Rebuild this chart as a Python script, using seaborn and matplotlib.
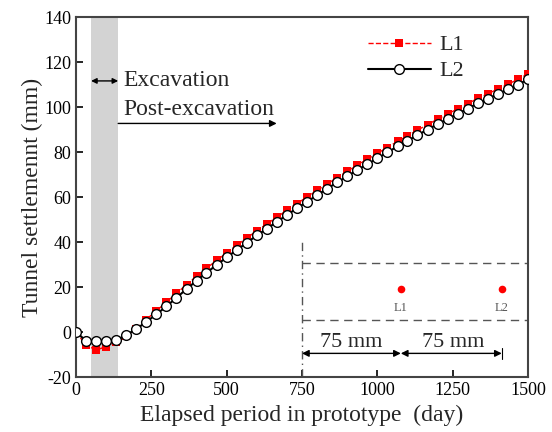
import numpy as np
import pandas as pd
import matplotlib
matplotlib.use("Agg")
import matplotlib.pyplot as plt
import seaborn as sns

# ---- data ----
days = [0, 33, 67, 100, 133, 167, 200, 233, 267, 300, 333, 367, 400, 433, 467,
        500, 533, 567, 600, 633, 667, 700, 733, 767, 800, 833, 867, 900, 933, 967,
        1000, 1033, 1067, 1100, 1133, 1167, 1200, 1233, 1267, 1300, 1333, 1367,
        1400, 1433, 1467, 1500]
l1 = [0, -5.8, -8.0, -6.5, -4.5, -1.8, 1.5, 5.5, 9.5, 13.2, 17.2, 21.0, 24.8,
      28.4, 31.8, 35.2, 38.5, 41.8, 45.0, 48.0, 51.1, 54.1, 57.1, 60.0, 62.9,
      65.8, 68.6, 71.4, 74.2, 76.8, 79.4, 82.0, 84.7, 87.2, 89.7, 92.2, 94.6,
      96.9, 99.2, 101.5, 103.8, 105.9, 108.0, 110.1, 112.3, 114.8]
l2 = [0, -3.9, -4.0, -3.9, -3.7, -1.3, 1.3, 4.5, 7.9, 11.4, 15.2, 19.1, 22.8,
      26.4, 29.8, 33.2, 36.4, 39.7, 42.9, 45.9, 49.0, 52.0, 55.0, 57.9, 60.8,
      63.7, 66.5, 69.2, 72.0, 74.6, 77.2, 79.8, 82.5, 85.0, 87.5, 90.0, 92.4,
      94.7, 97.0, 99.3, 101.6, 103.7, 105.8, 107.9, 110.0, 112.3]
series_names = ["L1", "L2"]
x_ticks = [0, 250, 500, 750, 1000, 1250, 1500]
y_ticks = [-20, 0, 20, 40, 60, 80, 100, 120, 140]
excavation_period = (50, 140)

df = pd.DataFrame({"day": days, "L1": l1, "L2": l2})

sns.set_theme(style="white")
plt.rcParams["font.family"] = ["Liberation Serif", "DejaVu Serif"]
plt.rcParams["axes.unicode_minus"] = False

fig = plt.figure(figsize=(5.52, 4.32), dpi=100)
ax = fig.add_axes([0.1377, 0.1273, 0.8188, 0.8333])

ax.axvspan(*excavation_period, color="#d3d3d3", zorder=0, lw=0)

sns.lineplot(data=df, x="day", y="L1", ax=ax, color="red", linestyle="--",
             lw=1.0, marker="s", markersize=6, markeredgewidth=0,
             markerfacecolor="red", label=series_names[0], zorder=3)
sns.lineplot(data=df, x="day", y="L2", ax=ax, color="black", linestyle="-",
             lw=1.5, marker="o", markersize=7, markeredgewidth=1.0,
             markerfacecolor="white", markeredgecolor="black",
             label=series_names[1], zorder=4)

ax.set_xlim(0, 1500)
ax.set_ylim(-20, 140)
ax.set_xticks(x_ticks)
ax.set_yticks(y_ticks)
ax.tick_params(direction="in", length=5, width=1.2, labelsize=13,
               colors="black", bottom=True, left=True, top=False, right=False)
for s in ax.spines.values():
    s.set_color("#444444")
    s.set_linewidth(1.5)
ax.set_xlabel("Elapsed period in prototype  (day)", fontsize=17, labelpad=4)
ax.set_ylabel("Tunnel settlemennt (mm)", fontsize=17, labelpad=1)

leg = ax.legend(loc="upper right", frameon=False, fontsize=16,
                handlelength=2.8, borderaxespad=0.4, labelspacing=0.25,
                handletextpad=0.4, bbox_to_anchor=(0.898, 1.0))

# ---- annotations ----
ax.annotate("", xy=(excavation_period[0], 111.6),
            xytext=(excavation_period[1], 111.6),
            arrowprops=dict(arrowstyle="<|-|>", color="black", lw=1.0,
                            mutation_scale=8, shrinkA=0, shrinkB=0))
ax.text(157, 111.6, "Excavation", fontsize=17, va="center", ha="left")
ax.text(157, 98.8, "Post-excavation", fontsize=17, va="center", ha="left")
ax.annotate("", xy=(666, 92.7), xytext=(140, 92.7),
            arrowprops=dict(arrowstyle="-|>", color="black", lw=1.0,
                            mutation_scale=10, shrinkA=0, shrinkB=0))

# ---- inset sketch ----
gray = "#555555"
ax.plot([750, 750], [-20, 41], color=gray, lw=1.0, linestyle=(0, (6, 3, 1, 3)))
ax.plot([750, 1500], [30.8, 30.8], color=gray, lw=1.0, linestyle=(0, (6, 4)))
ax.plot([750, 1500], [5.3, 5.3], color=gray, lw=1.0, linestyle=(0, (6, 4)))
ax.scatter([1078, 1413], [19.0, 19.0], s=30, color="red", zorder=5, lw=0)
ax.text(1078, 10.7, "L1", fontsize=9, color="#555555", ha="center", va="center")
ax.text(1413, 10.7, "L2", fontsize=9, color="#555555", ha="center", va="center")
for a, b in [(750, 1078), (1078, 1413)]:
    ax.annotate("", xy=(a, -9.5), xytext=(b, -9.5),
                arrowprops=dict(arrowstyle="<|-|>", color="black", lw=1.0,
                                mutation_scale=10, shrinkA=0, shrinkB=0))
ax.plot([1413, 1413], [-12, -7], color="black", lw=0.8)
ax.text(912, -4.5, "75 mm", fontsize=16, ha="center", va="center")
ax.text(1251, -4.5, "75 mm", fontsize=16, ha="center", va="center")

fig.savefig("out.png", dpi=100)
